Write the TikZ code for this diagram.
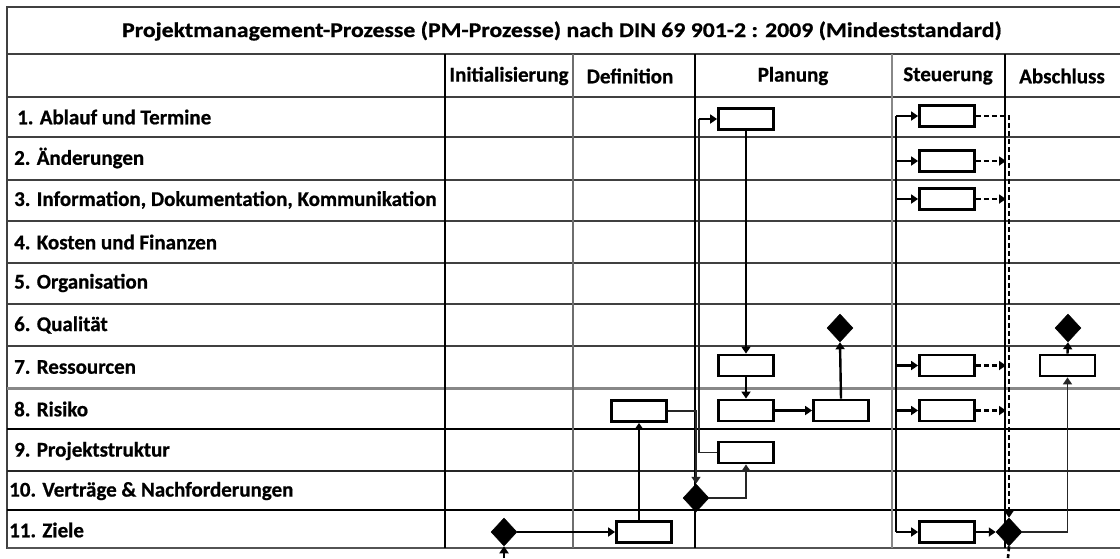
\documentclass[tikz,border=0pt]{standalone}
\usepackage{fontspec}
\setmainfont{Carlito}[BoldFeatures={FakeBold=0.7}]
\usetikzlibrary{arrows.meta,shapes.geometric}
\definecolor{gridd}{HTML}{404040}
\definecolor{gridg}{HTML}{888888}
\definecolor{gridm}{HTML}{6E6E6E}
\begin{document}
\begin{tikzpicture}[x=1pt,y=-1pt,
  txt/.style={font=\fontsize{21}{24}\selectfont\bfseries, inner sep=0pt},
  lbl/.style={txt, anchor=west},
  hdr/.style={txt, anchor=center},
  pbox/.style={draw=black, fill=white, line width=2.8pt, minimum width=55pt, minimum height=21pt, inner sep=0pt},
  dia/.style={diamond, fill=black, draw=black, minimum width=26pt, minimum height=28pt, inner sep=0pt, line width=0.5pt},
  con/.style={draw=black, line width=2.4pt},
  thin/.style={draw=black!85, line width=1.6pt},
  arr/.style={-{Triangle[length=7pt,width=9pt]}},
  dsh/.style={draw=black, line width=2.6pt, dash pattern=on 5pt off 3pt}
]
\useasboundingbox (0,0) rectangle (1120,558);
\fill[white] (0,0) rectangle (1120,558);

% ---- table grid ----
\draw[gridd, line width=2pt] (7,7) -- (1120,7);
\draw[gridd, line width=2pt] (7,6) -- (7,549);
\draw[gridd, line width=2pt] (7,54) -- (1120,54);
\draw[gridd, line width=2pt] (7,97) -- (1120,97);
\foreach \yy in {137,180,221,263,304,346} {
  \draw[gridd, line width=1.8pt] (7,\yy) -- (1120,\yy);
}
\draw[gridg, line width=3pt] (7,388) -- (1120,388);
\draw[black, line width=2pt] (7,429) -- (1120,429);
\draw[black!85, line width=1.6pt] (7,471) -- (1120,471);
\draw[black, line width=1.8pt] (7,510) -- (1120,510);
\draw[gridd!90, line width=2.6pt] (7,548) -- (1120,548);
\draw[black, line width=2pt] (445,54) -- (445,548);
\draw[gridm, line width=2pt] (573,54) -- (573,548);
\draw[black, line width=1.5pt] (695,54) -- (695,548);
\draw[gridg, line width=2.4pt] (892,54) -- (892,548);
\draw[black, line width=1.5pt] (1005,54) -- (1005,548);

% ---- texts ----
\node[hdr] (title) at (562,31) {\scalebox{1.13}[1]{Projektmanagement-Prozesse (PM-Prozesse) nach DIN 69 901-2 : 2009 (Mindeststandard)}};
\node[hdr] (hi) at (509,76) {Initialisierung};
\node[hdr] (hd) at (630,76) {Definition};
\node[hdr] (hp) at (793,76) {Planung};
\node[hdr] (hs) at (948,76) {Steuerung};
\node[hdr] (ha) at (1062,76) {Abschluss};

\node[lbl] (l1) at (17,117) {1. Ablauf und Termine};
\node[lbl] (l2) at (14,158) {2. Änderungen};
\node[lbl] (l3) at (14,200) {3. Information, Dokumentation, Kommunikation};
\node[lbl] (l4) at (14,242) {4. Kosten und Finanzen};
\node[lbl] (l5) at (14,283) {5. Organisation};
\node[lbl] (l6) at (14,325) {6. Qualität};
\node[lbl] (l7) at (14,367) {7. Ressourcen};
\node[lbl] (l8) at (14,409) {8. Risiko};
\node[lbl] (l9) at (14,451) {9. Projektstruktur};
\node[lbl] (l10) at (9,491) {10. Verträge \& Nachforderungen};
\node[lbl] (l11) at (9,530) {11. Ziele};

% ---- boxes ----
\node[pbox] (p1) at (746,119) {};
\node[pbox] (p7) at (746,365.5) {};
\node[pbox] (p8a) at (746,410.5) {};
\node[pbox] (p8b) at (841,410.5) {};
\node[pbox] (p9) at (746,452.5) {};
\node[pbox] (d8) at (639,411) {};
\node[pbox] (d11) at (644,532) {};
\node[pbox] (s1) at (947,116) {};
\node[pbox] (s2) at (947,161) {};
\node[pbox] (s3) at (947,199) {};
\node[pbox] (s7) at (947,365.5) {};
\node[pbox] (s8) at (947,410.5) {};
\node[pbox] (s11) at (947,532) {};
\node[pbox] (a7) at (1067.5,365.5) {};

% ---- diamonds ----
\node[dia] (di11) at (504,532) {};
\node[dia] (dp10) at (696,498) {};
\node[dia] (dq6) at (840,328) {};
\node[dia] (da6) at (1068,328) {};
\node[dia] (ds11) at (1009,532) {};

% ---- helper coordinates ----
\coordinate (inbot) at (504,558);
\coordinate (pbus) at (699,119);
\coordinate (bt) at (896,116);
\coordinate (bb) at (896,532);
\coordinate (dl) at (1006,116);
\coordinate (dbot) at (1008,558);

% ---- connectors ----
\draw[con, arr] (inbot) -- (di11.south);
\draw[con, arr] (di11.east) -- (d11.west);
\draw[con, arr] (d11.north -| d8) -- (d8.south);
\draw[thin, arr] (d8.east) -| (dp10.north);
\draw[thin, arr] (dp10.east) -| (p9.south);
\draw[thin] (p9.west) -| (pbus);
\draw[con, arr] (pbus) -- (p1.west);
\draw[con, arr] (p1.south) -- (p7.north);
\draw[con, arr] (p7.south) -- (p8a.north);
\draw[con, arr] (p8a.east) -- (p8b.west);
\draw[con, arr] (p8b.north) -- (dq6.south);

\draw[con] (bt) -- (bb);
\draw[con, arr] (bt) -- (s1.west);
\draw[con, arr] (s2.west -| bt) -- (s2.west);
\draw[con, arr] (s3.west -| bt) -- (s3.west);
\draw[con, arr] (s7.west -| bt) -- (s7.west);
\draw[con, arr] (s8.west -| bt) -- (s8.west);
\draw[con, arr] (bb) -- (s11.west);

\draw[dsh, arr] (s1.east) -| (ds11.north);
\draw[dsh, arr] (s2.east) -- (s2.east -| dl);
\draw[dsh, arr] (s3.east) -- (s3.east -| dl);
\draw[dsh, arr] (s7.east) -- (s7.east -| dl);
\draw[dsh, arr] (s8.east) -- (s8.east -| dl);
\draw[dsh] (ds11.south) -- (dbot);
\draw[con, arr] (s11.east) -- (ds11.west);
\draw[thin, arr] (ds11.east) -| (a7.south);
\draw[con, arr] (a7.north) -- (da6.south);
\end{tikzpicture}
\end{document}
